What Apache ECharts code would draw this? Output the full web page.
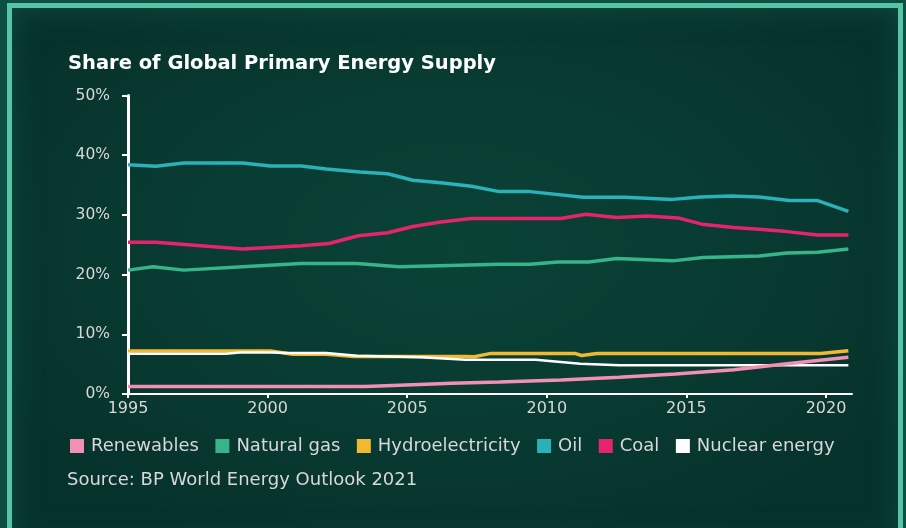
<!DOCTYPE html>
<html>
<head>
<meta charset="utf-8">
<script src="https://cdn.jsdelivr.net/npm/echarts@6/dist/echarts.min.js"></script>
<style>
  html, body { margin: 0; padding: 0; width: 906px; height: 528px; overflow: hidden; background: #0e4e42; }
  #frame {
    position: absolute; left: 7px; top: 3px; width: 896px; height: 545px;
    box-sizing: border-box; border: 5px solid #55c5a4;
    background: radial-gradient(ellipse 60% 60% at 50% 45%, #0a4236 0%, #083a31 60%, #06322c 100%);
    box-shadow: inset 0 0 30px rgba(20, 90, 75, 0.6);
  }
  #chart { position: absolute; left: 0; top: 0; width: 906px; height: 528px; }
</style>
</head>
<body>
<div id="frame"></div>
<div id="chart"></div>
<script>
const seriesNames = ['Renewables', 'Natural gas', 'Hydroelectricity', 'Oil', 'Coal', 'Nuclear energy'];
const xTicks = [1995, 2000, 2005, 2010, 2015, 2020];

const renewables = [[1995,1.25],[2003.5,1.25],[2005.2,1.55],[2006.6,1.8],[2008.3,2.0],[2010.5,2.35],[2012.6,2.8],[2014.6,3.35],[2016.7,4.05],[2018.6,5.05],[2020.8,6.15]];
const naturalGas = [[1995,20.75],[1995.9,21.3],[1997,20.75],[1999.1,21.3],[2001.2,21.85],[2003.2,21.85],[2004.7,21.3],[2008.3,21.75],[2009.4,21.75],[2010.4,22.1],[2011.5,22.1],[2012.5,22.7],[2014.5,22.3],[2015.6,22.85],[2017.6,23.1],[2018.6,23.6],[2019.7,23.75],[2020.8,24.3]];
const hydro = [[1995,7.2],[2000.1,7.2],[2000.9,6.65],[2002.1,6.65],[2003.1,6.3],[2007.1,6.3],[2007.4,6.25],[2008.0,6.8],[2011.0,6.8],[2011.25,6.45],[2011.8,6.8],[2019.8,6.8],[2020.8,7.25]];
const oil = [[1995,38.4],[1996,38.15],[1997,38.7],[1999.1,38.7],[2000.1,38.2],[2001.2,38.2],[2002.1,37.7],[2003.3,37.2],[2004.3,36.9],[2005.2,35.8],[2006.2,35.4],[2007.3,34.8],[2008.3,33.9],[2009.4,33.9],[2011.3,32.95],[2012.8,32.95],[2014.5,32.6],[2015.5,33.0],[2016.6,33.15],[2017.6,33.0],[2018.7,32.4],[2019.7,32.4],[2020.8,30.6]];
const coal = [[1995,25.4],[1996,25.4],[1999.1,24.3],[2001.2,24.85],[2002.2,25.2],[2003.25,26.5],[2004.3,27.0],[2005.2,28.05],[2006.2,28.8],[2007.3,29.4],[2010.5,29.4],[2011.4,30.1],[2012.5,29.55],[2013.6,29.8],[2014.7,29.5],[2015.55,28.45],[2016.7,27.9],[2017.6,27.6],[2018.6,27.2],[2019.7,26.65],[2020.8,26.65]];
const nuclear = [[1995,6.75],[1998.5,6.75],[1999,6.95],[2000.2,6.95],[2000.7,6.85],[2002.1,6.85],[2003.2,6.4],[2005.5,6.15],[2007.1,5.75],[2009.6,5.75],[2011.2,5.05],[2012.6,4.8],[2020.8,4.8]];

const seriesData = [renewables, naturalGas, hydro, oil, coal, nuclear];
const colors = ['#f290b4', '#38b48a', '#f0b930', '#2bb1b9', '#e5246b', '#ffffff'];
const widths = [3.5, 3.5, 3.5, 3.5, 3.5, 2.5];
const zs = [4, 2, 2, 2, 2, 3];

const FONT = 'DejaVu Sans';
const chart = echarts.init(document.getElementById('chart'), null, { renderer: 'canvas' });
chart.setOption({
  backgroundColor: 'transparent',
  animation: false,
  title: [{
    text: 'Share of Global Primary Energy Supply',
    left: 63, top: 49,
    textStyle: { color: '#ffffff', fontFamily: FONT, fontWeight: 'bold', fontSize: 19.5 }
  }, {
    text: 'Source: BP World Energy Outlook 2021',
    left: 62, top: 466,
    textStyle: { color: '#d8d8d8', fontFamily: FONT, fontWeight: 'normal', fontSize: 18 }
  }],
  legend: {
    left: 65, top: 432,
    icon: 'rect', itemWidth: 14, itemHeight: 14, itemGap: 16.5,
    textStyle: { color: '#d8d8d8', fontFamily: FONT, fontSize: 18, padding: [0, 0, 0, 2] },
    data: seriesNames
  },
  grid: { left: 128, top: 95.5, width: 724, height: 298.5 },
  xAxis: {
    type: 'value', min: 1995, max: 2020.93,
    axisLine: { show: true, lineStyle: { color: '#ffffff', width: 2 } },
    axisTick: { show: true, length: 4, lineStyle: { color: '#ffffff', width: 2 }, customValues: xTicks },
    axisLabel: { color: '#d8d8d8', fontFamily: FONT, fontSize: 16, margin: 7, customValues: xTicks,
      formatter: v => String(v) },
    splitLine: { show: false }
  },
  yAxis: {
    type: 'value', min: 0, max: 50, interval: 10,
    axisLine: { show: true, lineStyle: { color: '#ffffff', width: 3 } },
    axisTick: { show: true, length: 6, lineStyle: { color: '#ffffff', width: 2 } },
    axisLabel: { color: '#d8d8d8', fontFamily: FONT, fontSize: 15.5, margin: 18, formatter: '{value}%' },
    splitLine: { show: false }
  },
  series: seriesNames.map((name, i) => ({
    name, type: 'line', data: seriesData[i], showSymbol: false, symbol: 'none',
    z: zs[i],
    itemStyle: { color: colors[i] },
    lineStyle: { color: colors[i], width: widths[i] }
  }))
});
</script>
</body>
</html>
